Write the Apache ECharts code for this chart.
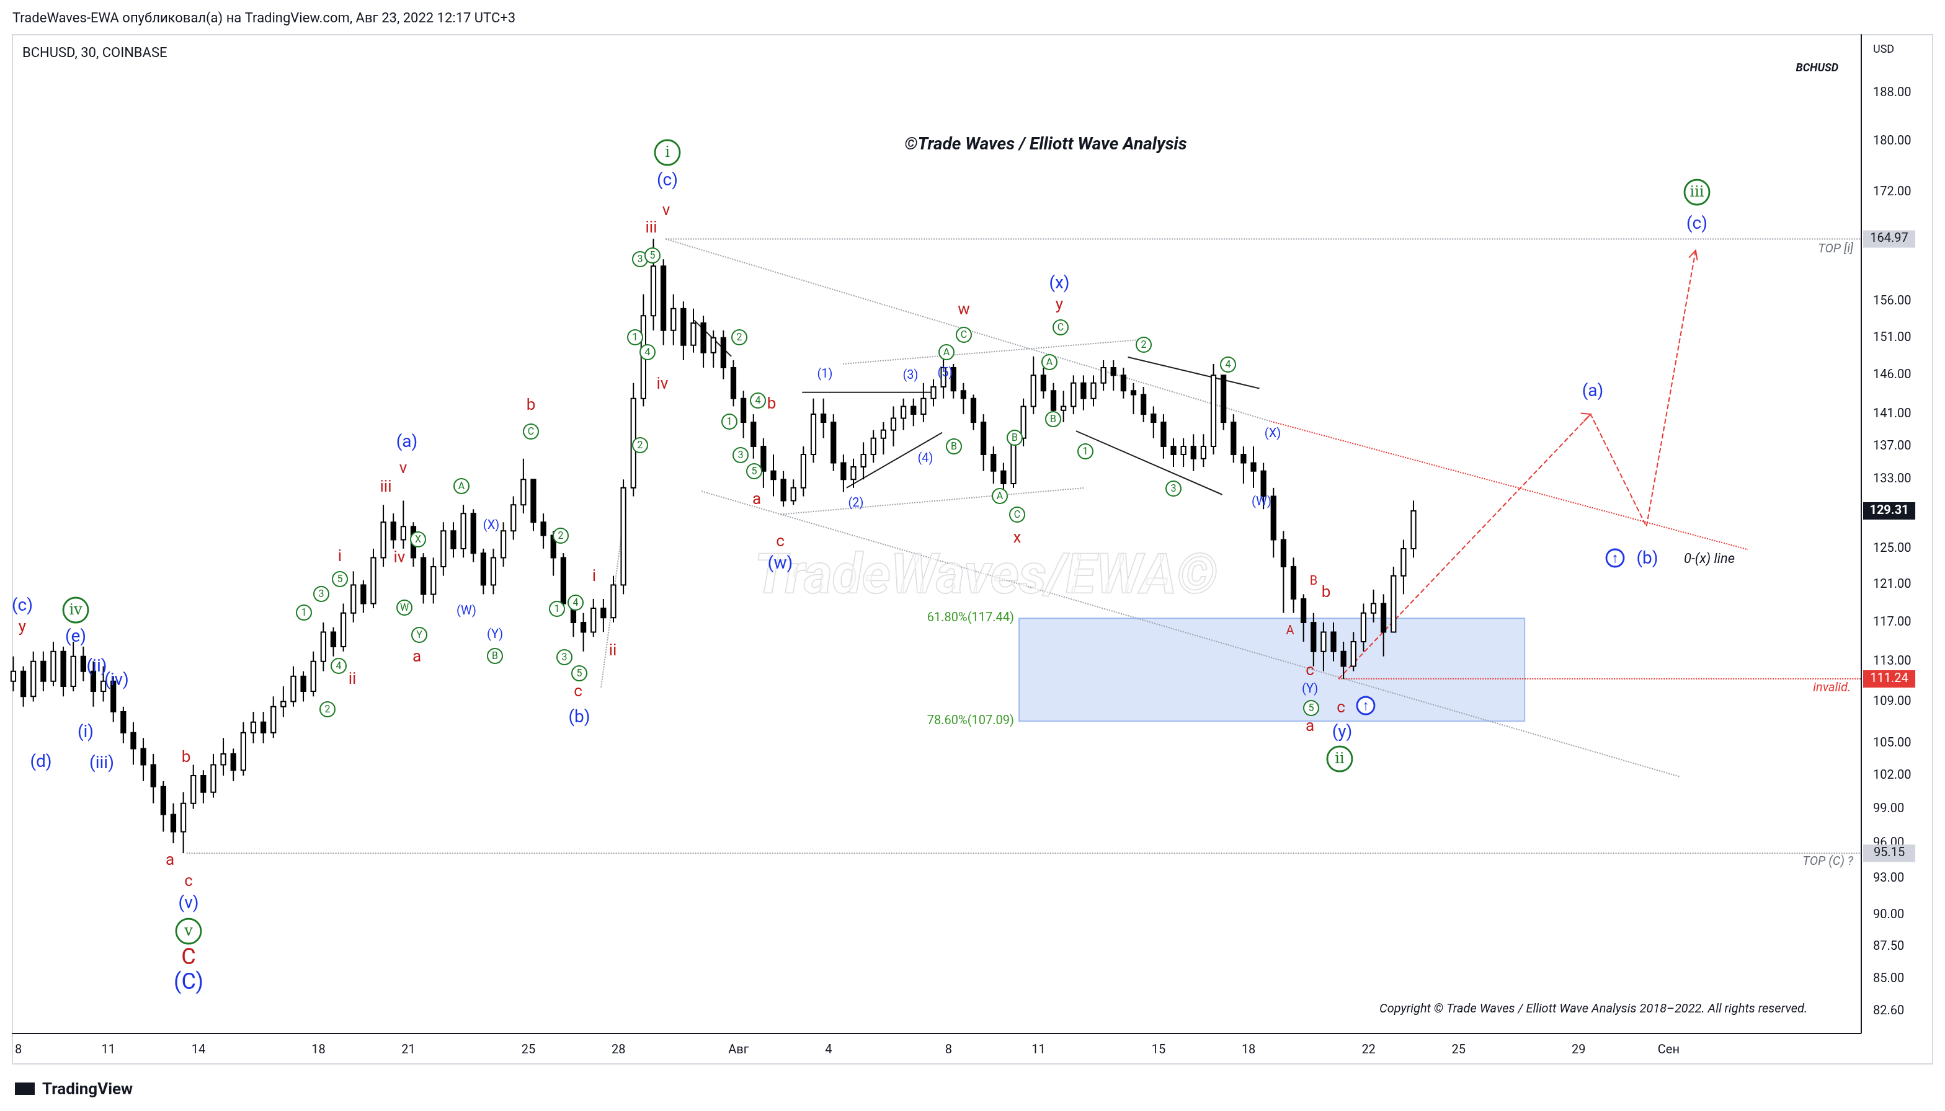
<!DOCTYPE html>
<html><head><meta charset="utf-8">
<script src="https://cdn.jsdelivr.net/npm/echarts@6/dist/echarts.min.js"></script>
<style>body{margin:0;background:#fff}#main{width:1568px;height:896px;zoom:1.2405}</style>
</head><body><div id="main"></div>
<script>
// 8-hour bars, day 7.83 of July onward (day 32 = Aug 1)
const startDay = 7.83, step = 1 / 3
const firstOpen = 111
const closes = [112,109.5,113, 111,114,110.5, 113.5,112,110, 111,108,106, 104.5,103,101, 98.5,97,99.5,
  102,100.5,103, 104,102.5,106, 107,106,108.5, 109,111.5,110, 113,116,114.5, 118,121,119, 124,128,126,
  127.5,124,120, 123,127,125, 129,124.5,121, 124,127,130, 133,128,126.5, 124,119,117, 116,118.5,117.5,
  121,132,143, 154,161,152, 155,150,153, 149,151,147, 143,140,137, 134,133,130.5, 132,136,141,
  140,135,133, 134.5,136,138, 139,140.5,142, 141,143,144.5, 147,144,143, 140,136,134, 132.5,138,142,
  146,144,141.5, 142,145,143, 145,147,146, 144,143.5,141, 140,137,136, 137,135.5,137, 146,140,136,
  135,134,131, 126,123,119.5, 117,114,116, 114,112.5,115, 118,119,116, 122,125,129.31]
const highs = [113.5,112.5,114, 114,115,114.5, 115,114.5,113, 112.5,111.5,108.5, 107,105.5,104, 101.5,99.5,100.5,
  103,102.5,104, 105.5,104.5,107, 108,108,109.5, 110.5,112.5,112, 114,117,116.5, 119,122.5,121.5, 125,130,129,
  130.5,128,124.5, 124,128,128, 130,129.5,125, 125,128,131, 135.5,133,129, 127,124.5,119.5, 118,119.5,119.5,
  122,133,145, 157,165,162, 157,156,155, 154,152,152, 148,144,141, 138,136,134, 133,137,143,
  143,141,136, 135.5,137.5,139, 140,142,143, 143,145,145.5, 148.5,147.5,145, 143.5,141,137, 135,139,143,
  148.5,147,145, 144,146,146, 146,148,148, 147,145,144.5, 142,141,138, 138,138.5,138.5, 147.5,146,141,
  137,137,135, 132,127,124, 120,118,117, 117,115,116, 119,120.5,120, 123,126,130.5]
const lows = [110,108.5,109, 110,110.5,109.5, 110,111,108.5, 109,107,105, 103,101.5,99.5, 97,96,95.15,
  99,99.5,100, 102,101.5,102, 105,105,105.5, 107.5,108.5,109, 109.5,112,113.5, 114,117,118, 118.5,123,125,
  125,123,119, 119,122,124, 124,123.5,120, 120,123,126, 129,127,125, 122,118,115.5, 114,115.5,116,
  117,120,131, 142,152,150, 150,148,149, 147,147,145.5, 142,138,135.5, 132,131,129.8, 130,131,135,
  138,134,131.5, 132,133,135, 136,137,139, 139.5,140,142, 143,143,141, 139,134,132.5, 131.5,132,137,
  141,143,140, 140,141,141.5, 142,144,144, 143,141,140, 138,135.5,134.5, 134.5,134,134.5, 136,139,135,
  132.5,132,129.5, 124,118,118, 115,112.5,112, 113,111.24,112, 114,117,113.5, 117,120,124]

const xTickDays = [8,11,14,18,21,25,28,32,35,39,42,46,49,53,56,60,63]
const xTickNames = ['8','11','14','18','21','25','28','Авг','4','8','11','15','18','22','25','29','Сен']
const yTicks = [188,180,172,156,151,146,141,137,133,125,121,117,113,109,105,102,99,96,93,90,87.5,85,82.6]

// wave labels: reference-pixel position, text, style kind
const waveLabels = [
  [18,489,'(c)','b'],[18,506,'y','r'],[61,492,'iv','G'],[61,514,'(e)','b'],[78,538,'(ii)','b'],[94,549,'(iv)','b'],
  [69,591,'(i)','b'],[82,616,'(iii)','b'],[33,615,'(d)','b'],[150,611,'b','r'],[137,694,'a','r'],[152,711,'c','r'],
  [152,729,'(v)','b'],[152,751,'v','G'],[152,773,'C','R'],[152,793,'(C)','B'],
  [245,494,'1','g'],[259,479,'3','g'],[274,467,'5','g'],[273,537,'4','g'],[264,572,'2','g'],[274,449,'i','r'],
  [284,548,'ii','r'],[311,393,'iii','r'],[325,378,'v','r'],[328,357,'(a)','b'],[322,450,'iv','r'],[337,435,'X','g'],
  [326,490,'W','g'],[338,512,'Y','g'],[336,530,'a','r'],[372,392,'A','g'],[396,424,'(X)','s'],[376,493,'(W)','s'],
  [399,512,'(Y)','s'],[399,529,'B','g'],[428,327,'b','r'],[428,348,'C','g'],[452,432,'2','g'],[449,491,'1','g'],
  [464,486,'4','g'],[455,530,'3','g'],[467,543,'5','g'],[466,558,'c','r'],[467,579,'(b)','b'],[479,465,'i','r'],[494,525,'ii','r'],
  [538,123,'i','G'],[538,146,'(c)','b'],[537,170,'v','r'],[525,184,'iii','r'],[516,209,'3','g'],[526,206,'5','g'],
  [512,272,'1','g'],[522,284,'4','g'],[516,359,'2','g'],[534,310,'iv','r'],[596,272,'2','g'],[588,340,'1','g'],
  [611,323,'4','g'],[622,326,'b','r'],[597,367,'3','g'],[608,380,'5','g'],[610,403,'a','r'],[629,437,'c','r'],
  [629,455,'(w)','b'],[665,302,'(1)','s'],[690,406,'(2)','s'],[734,303,'(3)','s'],[746,370,'(4)','s'],[762,301,'(5)','s'],
  [763,284,'A','g'],[777,270,'C','g'],[777,250,'w','r'],[769,360,'B','g'],[806,400,'A','g'],[820,415,'C','g'],
  [820,434,'x','r'],[818,353,'B','g'],[854,229,'(x)','b'],[854,246,'y','r'],[855,264,'C','g'],[846,292,'A','g'],
  [849,338,'B','g'],[875,364,'1','g'],[922,278,'2','g'],[946,394,'3','g'],[990,294,'4','g'],[1026,350,'(X)','s'],
  [1017,405,'(W)','s'],[1059,469,'B','rs'],[1069,478,'b','r'],[1040,509,'A','rs'],[1056,541,'c','r'],[1056,556,'(Y)','s'],
  [1057,571,'5','g'],[1056,586,'a','r'],[1081,571,'c','r'],[1082,591,'(y)','b'],[1080,612,'ii','G'],[1101,569,'↑','U'],
  [1284,316,'(a)','b'],[1302,450,'↑','U'],[1328,451,'(b)','b'],[1368,155,'iii','G'],[1368,181,'(c)','b']
]

// guide lines in [day, price]
const guides = [
  { pts: [[29.57,164.97],[69.4,164.97]], color: '#9aa0a8', type: 'dotted' },
  { pts: [[13.6,95.15],[69.4,95.15]], color: '#9aa0a8', type: 'dotted' },
  { pts: [[52.0,111.24],[69.4,111.24]], color: '#e53935', type: 'dotted' },
  { pts: [[29.57,164.97],[49.74,140.1]], color: '#9aa0a8', type: 'dotted' },
  { pts: [[49.74,140.1],[65.64,124.9]], color: '#e53935', type: 'dotted' },
  { pts: [[30.77,131.6],[63.37,101.9]], color: '#9aa0a8', type: 'dotted' },
  { pts: [[33.41,128.9],[43.54,132.0]], color: '#9aa0a8', type: 'dotted' },
  { pts: [[35.48,147.5],[45.6,150.8]], color: '#9aa0a8', type: 'dotted' },
  { pts: [[27.42,110.4],[28.25,130.4]], color: '#9aa0a8', type: 'dotted' },
  { pts: [[34.12,143.8],[38.45,143.8]], color: '#222', type: 'solid' },
  { pts: [[35.6,132.0],[38.79,138.7]], color: '#222', type: 'solid' },
  { pts: [[43.25,138.9],[48.12,131.2]], color: '#222', type: 'solid' },
  { pts: [[44.98,148.4],[49.36,144.3]], color: '#222', type: 'solid' },
  { pts: [[30.52,153.4],[31.76,148.5]], color: '#222', type: 'solid' },
  { pts: [[52.0,111.24],[60.4,141],[62.26,127.5],[63.9,163.3]], color: '#e53935', type: 'dashed' }
]
const fibBox = [[41.35,117.44],[58.2,107.09]]
const tags = [[164.97,'#d1d4dc','#131722'],[129.31,'#131722','#fff'],[111.24,'#e53935','#fff'],[95.15,'#d1d4dc','#131722']]

const bars = closes.map((c, i) => [startDay + i * step, Math.log(i ? closes[i - 1] : firstOpen), Math.log(c), Math.log(lows[i]), Math.log(highs[i])])
const F = 'Roboto, "Noto Sans", sans-serif'
const chart = echarts.init(document.getElementById('main'), null, { devicePixelRatio: 2 })

const series = [{
  type: 'custom', data: bars, z: 3,
  renderItem(params, api) {
    const x = api.value(0), o = api.value(1), c = api.value(2)
    const po = api.coord([x, o]), pc = api.coord([x, c])
    const pl = api.coord([x, api.value(3)]), ph = api.coord([x, api.value(4)])
    const w = api.size([step, 0])[0] * 0.45
    return { type: 'group', children: [
      { type: 'line', shape: { x1: po[0], y1: ph[1], x2: po[0], y2: pl[1] }, style: { stroke: '#000', lineWidth: 1 } },
      { type: 'rect', shape: { x: po[0] - w / 2, y: Math.min(po[1], pc[1]), width: w, height: Math.max(1, Math.abs(po[1] - pc[1])) },
        style: { fill: c >= o ? '#fff' : '#000', stroke: '#000', lineWidth: 1 } }
    ] }
  }
}]
guides.forEach(g => series.push({
  type: 'line', data: g.pts.map(p => [p[0], Math.log(p[1])]), symbol: 'none', silent: true, z: 2,
  lineStyle: { color: g.color, type: g.type, width: 1 }
}))
series.push({
  type: 'line', data: [], z: 1,
  markArea: { silent: true, itemStyle: { color: 'rgba(110,150,230,0.25)', borderColor: 'rgba(110,150,230,0.6)', borderWidth: 1 },
    data: [[{ coord: [fibBox[0][0], Math.log(fibBox[0][1])] }, { coord: [fibBox[1][0], Math.log(fibBox[1][1])] }]] }
})

chart.setOption({
  animation: false,
  grid: { left: 10, right: 68, top: 28, bottom: 63 },
  xAxis: { type: 'value', min: 7.8, max: 69.4, splitLine: { show: false },
    axisLine: { show: true, onZero: false, lineStyle: { color: '#131722' } }, axisTick: { show: false },
    axisLabel: { customValues: xTickDays, fontSize: 10, color: '#131722', fontFamily: F, margin: 9,
      formatter: v => xTickNames[xTickDays.indexOf(Math.round(v))] } },
  yAxis: { type: 'value', position: 'right', min: Math.log(81.0), max: Math.log(198.1), splitLine: { show: false },
    axisLine: { show: true, lineStyle: { color: '#131722' } }, axisTick: { show: false },
    axisLabel: { customValues: yTicks.map(Math.log), fontSize: 10, color: '#131722', fontFamily: F, margin: 10,
      formatter: v => Math.exp(v).toFixed(2) } },
  series
})

const px = (d, p) => chart.convertToPixel({ gridIndex: 0 }, [d, Math.log(p)])
const red = '#c21c1c', blue = '#1d35e8', green = '#1b7a23'
const g = []
g.push({ type: 'rect', shape: { x: 10, y: 28, width: 1548, height: 830 }, style: { fill: 'none', stroke: '#d6d9e0' }, silent: true })
const txt = (x, y, t, o) => g.push({ type: 'text', x, y, z: 10, style: Object.assign({ text: t, fontFamily: F, fontSize: 11, fill: '#131722', align: 'left', verticalAlign: 'middle' }, o) })
txt(10, 15, 'TradeWaves-EWA опубликовал(а) на TradingView.com, Авг 23, 2022 12:17 UTC+3', { fontSize: 11 })
txt(18, 43, 'BCHUSD, 30, COINBASE', { fontSize: 11 })
txt(1482, 55, 'BCHUSD', { fontSize: 9, fontWeight: 'bold', fontStyle: 'italic', align: 'right' })
txt(1510, 40, 'USD', { fontSize: 9 })
txt(843, 117, '©Trade Waves / Elliott Wave Analysis', { fontSize: 14, fontWeight: 'bold', fontStyle: 'italic', align: 'center' })
txt(795, 467, 'TradeWaves/EWA©', { fontSize: 44, fontWeight: 'bold', fontStyle: 'italic', align: 'center', fill: 'rgba(255,255,255,0.55)', stroke: 'rgba(170,170,180,0.45)', lineWidth: 1 })
txt(1457, 814, 'Copyright © Trade Waves / Elliott Wave Analysis 2018–2022. All rights reserved.', { fontSize: 10, fontStyle: 'italic', align: 'right' })
txt(34, 879, 'TradingView', { fontSize: 13, fontWeight: 'bold' })
g.push({ type: 'rect', shape: { x: 12, y: 873, width: 16, height: 10 }, style: { fill: '#131722' } })
txt(1494, 201, 'TOP [i]', { fontSize: 10, fontStyle: 'italic', align: 'right', fill: '#6b707a' })
txt(1494, 695, 'TOP (C) ?', { fontSize: 10, fontStyle: 'italic', align: 'right', fill: '#6b707a' })
txt(1492, 555, 'invalid.', { fontSize: 10, fontStyle: 'italic', align: 'right', fill: '#e53935' })
txt(1378, 451, '0-(x) line', { fontSize: 11, fontStyle: 'italic', align: 'center', rotation: -0.28, fill: '#131722' })
const f1 = px(fibBox[0][0], fibBox[0][1]), f2 = px(fibBox[0][0], fibBox[1][1])
txt(f1[0] - 4, f1[1], '61.80%(117.44)', { fontSize: 10, align: 'right', fill: '#3c9a2a' })
txt(f2[0] - 4, f2[1], '78.60%(107.09)', { fontSize: 10, align: 'right', fill: '#3c9a2a' })
// arrowheads on projection
;[[60.4,141,[57.5,137]],[63.9,163.3,[63.4,156]]].forEach(a => {
  const p = px(a[0], a[1]), q = px(a[2][0], a[2][1])
  const ang = Math.atan2(p[1] - q[1], p[0] - q[0])
  const L = 8
  g.push({ type: 'polyline', z: 5, shape: { points: [
    [p[0] - L * Math.cos(ang - 0.45), p[1] - L * Math.sin(ang - 0.45)], p,
    [p[0] - L * Math.cos(ang + 0.45), p[1] - L * Math.sin(ang + 0.45)]] }, style: { stroke: '#e53935', lineWidth: 1 } })
})
tags.forEach(t => {
  const p = px(60, t[0])
  g.push({ type: 'rect', z: 10, shape: { x: 1502, y: p[1] - 7, width: 42, height: 14 }, style: { fill: t[1] } })
  txt(1523, p[1], t[0].toFixed(2), { fontSize: 10, align: 'center', fill: t[2], fontWeight: t[0] === 129.31 ? 'bold' : 'normal' })
})
waveLabels.forEach(([x, y, t, k]) => {
  if (k === 'g' || k === 'G' || k === 'U') {
    const r = k === 'g' ? 6 : k === 'G' ? 10 : 7
    const col = k === 'U' ? blue : green
    g.push({ type: 'circle', z: 9, shape: { cx: x, cy: y, r }, style: { fill: '#fff', stroke: col, lineWidth: k === 'g' ? 1 : 1.4 } })
    txt(x, y + 0.5, t, { align: 'center', fill: col, fontSize: k === 'g' ? 8 : k === 'G' ? 12 : 11, fontWeight: k === 'U' ? 'bold' : 'normal',
      fontFamily: k === 'G' ? '"DejaVu Serif", serif' : F, z: 11 })
  } else {
    const st = { r: [red, 13], rs: [red, 10], b: [blue, 14], s: [blue, 10], R: [red, 18], B: [blue, 18] }[k]
    txt(x, y, t, { align: 'center', fill: st[0], fontSize: st[1] })
  }
})
chart.setOption({ graphic: g })
</script></body></html>
